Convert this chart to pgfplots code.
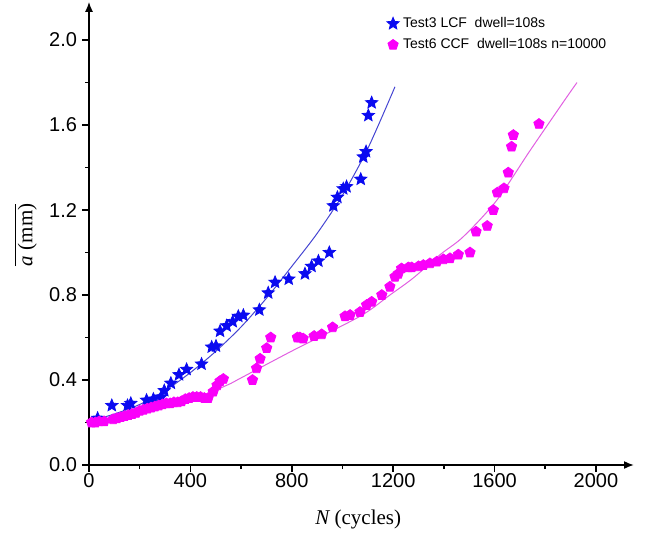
\documentclass[border=0pt]{standalone}
\usepackage{fontspec}
\setmainfont{Liberation Sans}
\newfontfamily\timesf{Liberation Serif}
\usepackage{pgfplots}
\pgfplotsset{compat=1.18}
\usetikzlibrary{plotmarks,arrows.meta}

\definecolor{starblue}{RGB}{10,10,240}
\definecolor{pentmag}{RGB}{250,0,250}
\definecolor{lineblue}{RGB}{70,70,210}
\definecolor{linemag}{RGB}{225,95,225}

% filled five-pointed star
\pgfdeclareplotmark{fstar}{%
  \pgfpathmoveto{\pgfpointpolar{90}{\pgfplotmarksize}}%
  \pgfpathlineto{\pgfpointpolar{126}{0.45\pgfplotmarksize}}%
  \pgfpathlineto{\pgfpointpolar{162}{\pgfplotmarksize}}%
  \pgfpathlineto{\pgfpointpolar{198}{0.45\pgfplotmarksize}}%
  \pgfpathlineto{\pgfpointpolar{234}{\pgfplotmarksize}}%
  \pgfpathlineto{\pgfpointpolar{270}{0.45\pgfplotmarksize}}%
  \pgfpathlineto{\pgfpointpolar{306}{\pgfplotmarksize}}%
  \pgfpathlineto{\pgfpointpolar{342}{0.45\pgfplotmarksize}}%
  \pgfpathlineto{\pgfpointpolar{18}{\pgfplotmarksize}}%
  \pgfpathlineto{\pgfpointpolar{54}{0.45\pgfplotmarksize}}%
  \pgfpathclose
  \pgfusepathqfillstroke}

\begin{document}
\begin{tikzpicture}
\useasboundingbox (-44.5pt,-33.5pt) rectangle (279pt,232.5pt);
\begin{axis}[
    scale only axis,
    width=272.5pt,
    height=231.6pt,
    xmin=0, xmax=2150,
    ymin=0, ymax=2.18,
    axis lines=left,
    axis line style={line width=0.8pt, -{Latex[length=5pt,width=4pt]}},
    tick align=outside,
    major tick length=3.5pt,
    minor tick length=2pt,
    tick style={line width=0.8pt, black},
    xtick={0,400,...,2000},
    ytick={0,0.4,...,2.0},
    minor x tick num=1,
    minor y tick num=1,
    tick label style={font=\fontsize{10}{12}\selectfont},
    xticklabel style={yshift=3pt},
    yticklabel style={xshift=1pt},
    /pgf/number format/assume math mode=true,
    /pgf/number format/1000 sep={},
    yticklabel style={/pgf/number format/.cd, fixed, fixed zerofill, precision=1},
    xlabel={\timesf\itshape N\upshape\ (cycles)},
    ylabel={$\overline{\mbox{\timesf\itshape a\upshape\ (mm)}}$},
    label style={font=\fontsize{10.5}{12}\selectfont},
    xlabel style={at={(axis description cs:0.494,-0.118)}, anchor=center},
    ylabel style={at={(axis description cs:-0.117,0.497)}, anchor=center},
    legend style={draw=none, fill=none, at={(0.535,0.985)}, anchor=north west,
        font=\fontsize{7}{8.5}\selectfont, row sep=0pt,
        cells={anchor=west}},
    legend image post style={xshift=-5pt},
    legend cell align=left,
    clip=false,
]
\addplot[only marks, mark=fstar, mark size=3.2pt, color=starblue] coordinates {
    (34,0.22) (90,0.28) (152,0.28) (165,0.29) (227,0.305) (254,0.31)
    (284,0.32) (297,0.35) (323,0.385) (355,0.425) (385,0.45) (444,0.475)
    (484,0.555) (501,0.56) (517,0.63) (543,0.655) (567,0.675) (589,0.70)
    (609,0.705) (672,0.73) (707,0.81) (734,0.86) (788,0.875) (852,0.90)
    (878,0.935) (905,0.96) (948,1.0) (964,1.22) (980,1.26) (1003,1.30)
    (1016,1.31) (1072,1.345) (1082,1.45) (1093,1.475) (1102,1.645) (1115,1.705)
};
\addlegendentry{Test3 LCF\ \ dwell=108s}

\addplot[only marks, mark=pentagon*, mark size=2.7pt, color=pentmag] coordinates {
    (10,0.20) (25,0.20) (40,0.205) (60,0.205) (95,0.215) (110,0.22)
    (125,0.225) (140,0.23) (155,0.235) (170,0.24) (185,0.245) (200,0.255)
    (215,0.26) (230,0.265) (245,0.27) (260,0.275) (275,0.28) (290,0.285)
    (305,0.29) (320,0.29) (335,0.295) (350,0.295) (365,0.30) (380,0.31)
    (395,0.315) (410,0.32) (425,0.32) (440,0.32) (455,0.315) (470,0.315)
    (490,0.345) (505,0.375) (517,0.395) (530,0.405)
    (645,0.40) (661,0.455) (675,0.50) (701,0.55) (717,0.60)
    (822,0.60) (832,0.60) (845,0.595) (888,0.607) (918,0.615) (961,0.648)
    (1010,0.70) (1030,0.706) (1069,0.72) (1095,0.753) (1115,0.768)
    (1155,0.80) (1187,0.839) (1207,0.886) (1220,0.90) (1233,0.925)
    (1260,0.93) (1273,0.93) (1300,0.935) (1319,0.941) (1345,0.949)
    (1372,0.957) (1398,0.968) (1424,0.973) (1457,0.99) (1503,1.0)
    (1527,1.098) (1571,1.125) (1595,1.20) (1611,1.282) (1637,1.302)
    (1654,1.376) (1667,1.498) (1674,1.553) (1775,1.605)
};
\addlegendentry{Test6 CCF\ \ dwell=108s n=10000}

% fitted curves
\addplot[forget plot, smooth, color=lineblue, line width=0.5pt] coordinates {
    (0,0.205) (100,0.24) (200,0.285) (300,0.35) (400,0.435) (500,0.535)
    (600,0.65) (700,0.785) (800,0.935) (900,1.09) (1000,1.27) (1100,1.49)
    (1207,1.78)
};
\addplot[forget plot, smooth, color=linemag, line width=0.5pt] coordinates {
    (0,0.20) (200,0.245) (400,0.305) (543,0.375) (600,0.41) (806,0.54)
    (1069,0.70) (1187,0.80) (1279,0.88) (1385,0.99) (1477,1.075)
    (1608,1.245) (1740,1.48) (1878,1.72) (1925,1.80)
};
\end{axis}
\end{tikzpicture}
\end{document}
